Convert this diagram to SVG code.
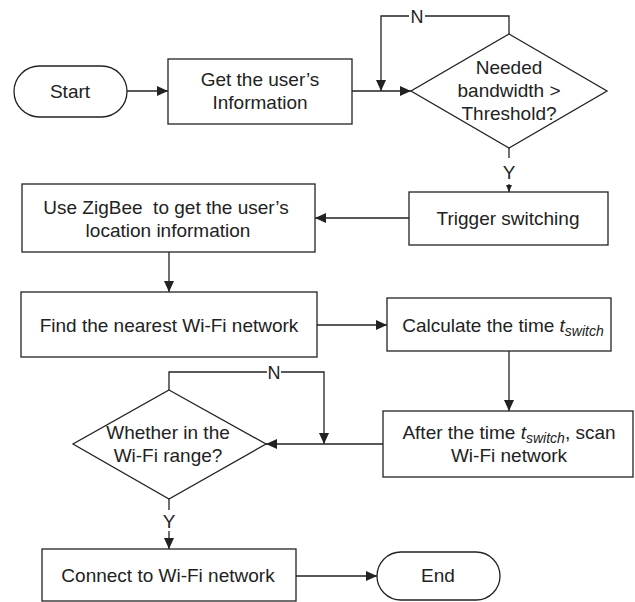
<svg xmlns="http://www.w3.org/2000/svg" width="635" height="602" viewBox="0 0 635 602">
<defs>
<style>
.s{fill:#fff;stroke:#222;stroke-width:1.3}
.t{font-family:"Liberation Sans",Arial,sans-serif;font-size:19px;fill:#222;text-anchor:middle}
.l{font-family:"Liberation Sans",Arial,sans-serif;font-size:18px;fill:#222;text-anchor:middle}
.c{fill:none;stroke:#222;stroke-width:1.3}
.i{font-style:italic}
.sub{font-style:italic;font-size:14px}
</style>
<marker id="a" markerUnits="userSpaceOnUse" markerWidth="12" markerHeight="10" refX="11" refY="5" orient="auto">
<path d="M0,0 L11,5 L0,10 Z" fill="#222"/>
</marker>
<marker id="b" markerUnits="userSpaceOnUse" markerWidth="8" markerHeight="8" refX="7" refY="4" orient="auto">
<path d="M0,1 L7,4 L0,7 Z" fill="#222"/>
</marker>
</defs>
<g id="connectors">
<path class="c" d="M127,91 H168" marker-end="url(#a)"/>
<path class="c" d="M352,91 H411" marker-end="url(#a)"/>
<path class="c" d="M509,34 V16 H425 M409,16 H381 V91" marker-end="url(#a)"/>
<path class="c" d="M509,148 V158"/>
<path class="c" d="M509,184 V192" marker-end="url(#b)"/>
<path class="c" d="M409,218 H315" marker-end="url(#a)"/>
<path class="c" d="M169,252 V292" marker-end="url(#a)"/>
<path class="c" d="M317,325 H387" marker-end="url(#a)"/>
<path class="c" d="M509,351 V411" marker-end="url(#a)"/>
<path class="c" d="M383,444 H266" marker-end="url(#a)"/>
<path class="c" d="M169,390 V372 H267 M281,372 H324 V444" marker-end="url(#a)"/>
<path class="c" d="M169,499 V510"/>
<path class="c" d="M169,531 V549" marker-end="url(#a)"/>
<path class="c" d="M296,576 H377" marker-end="url(#a)"/>
<text class="l" x="417" y="22.5">N</text>
<text class="l" x="274" y="378.5">N</text>
<text class="t" x="509" y="179">Y</text>
<text class="t" x="169" y="528">Y</text>
</g>
<g id="start">
<rect class="s" x="14" y="66" width="113" height="51" rx="25.5"/>
<text class="t" x="70" y="98">Start</text>
</g>
<g id="get-info">
<rect class="s" x="168" y="59" width="184" height="65"/>
<text class="t" x="260" y="86">Get the user’s</text>
<text class="t" x="260" y="109">Information</text>
</g>
<g id="bandwidth-decision">
<polygon class="s" points="509,34 607,91 509,148 411,91"/>
<text class="t" x="509" y="74">Needed</text>
<text class="t" x="509" y="97">bandwidth &gt;</text>
<text class="t" x="509" y="120">Threshold?</text>
</g>
<g id="trigger">
<rect class="s" x="409" y="192" width="199" height="53"/>
<text class="t" x="508" y="225">Trigger switching</text>
</g>
<g id="zigbee">
<rect class="s" x="22" y="184" width="293" height="68"/>
<text class="t" x="166" y="214" xml:space="preserve">Use ZigBee  to get the user’s</text>
<text class="t" x="168" y="237">location information</text>
</g>
<g id="find-wifi">
<rect class="s" x="21" y="292" width="296" height="65"/>
<text class="t" x="169" y="332">Find the nearest Wi-Fi network</text>
</g>
<g id="calculate">
<rect class="s" x="387" y="298" width="224" height="53"/>
<text class="t" x="503" y="332">Calculate the time <tspan class="i">t</tspan><tspan class="sub" dy="4">switch</tspan></text>
</g>
<g id="after-scan">
<rect class="s" x="383" y="411" width="250" height="66"/>
<text class="t" x="509" y="439">After the time <tspan class="i">t</tspan><tspan class="sub" dy="4">switch</tspan><tspan dy="-4">, scan</tspan></text>
<text class="t" x="509" y="462">Wi-Fi network</text>
</g>
<g id="range-decision">
<polygon class="s" points="169,390 266,444 169,499 73,444"/>
<text class="t" x="168" y="439">Whether in the</text>
<text class="t" x="168" y="462">Wi-Fi range?</text>
</g>
<g id="connect">
<rect class="s" x="42" y="549" width="254" height="52"/>
<text class="t" x="168" y="582">Connect to Wi-Fi network</text>
</g>
<g id="end">
<rect class="s" x="377" y="552" width="123" height="48" rx="24"/>
<text class="t" x="438" y="582">End</text>
</g>
</svg>
